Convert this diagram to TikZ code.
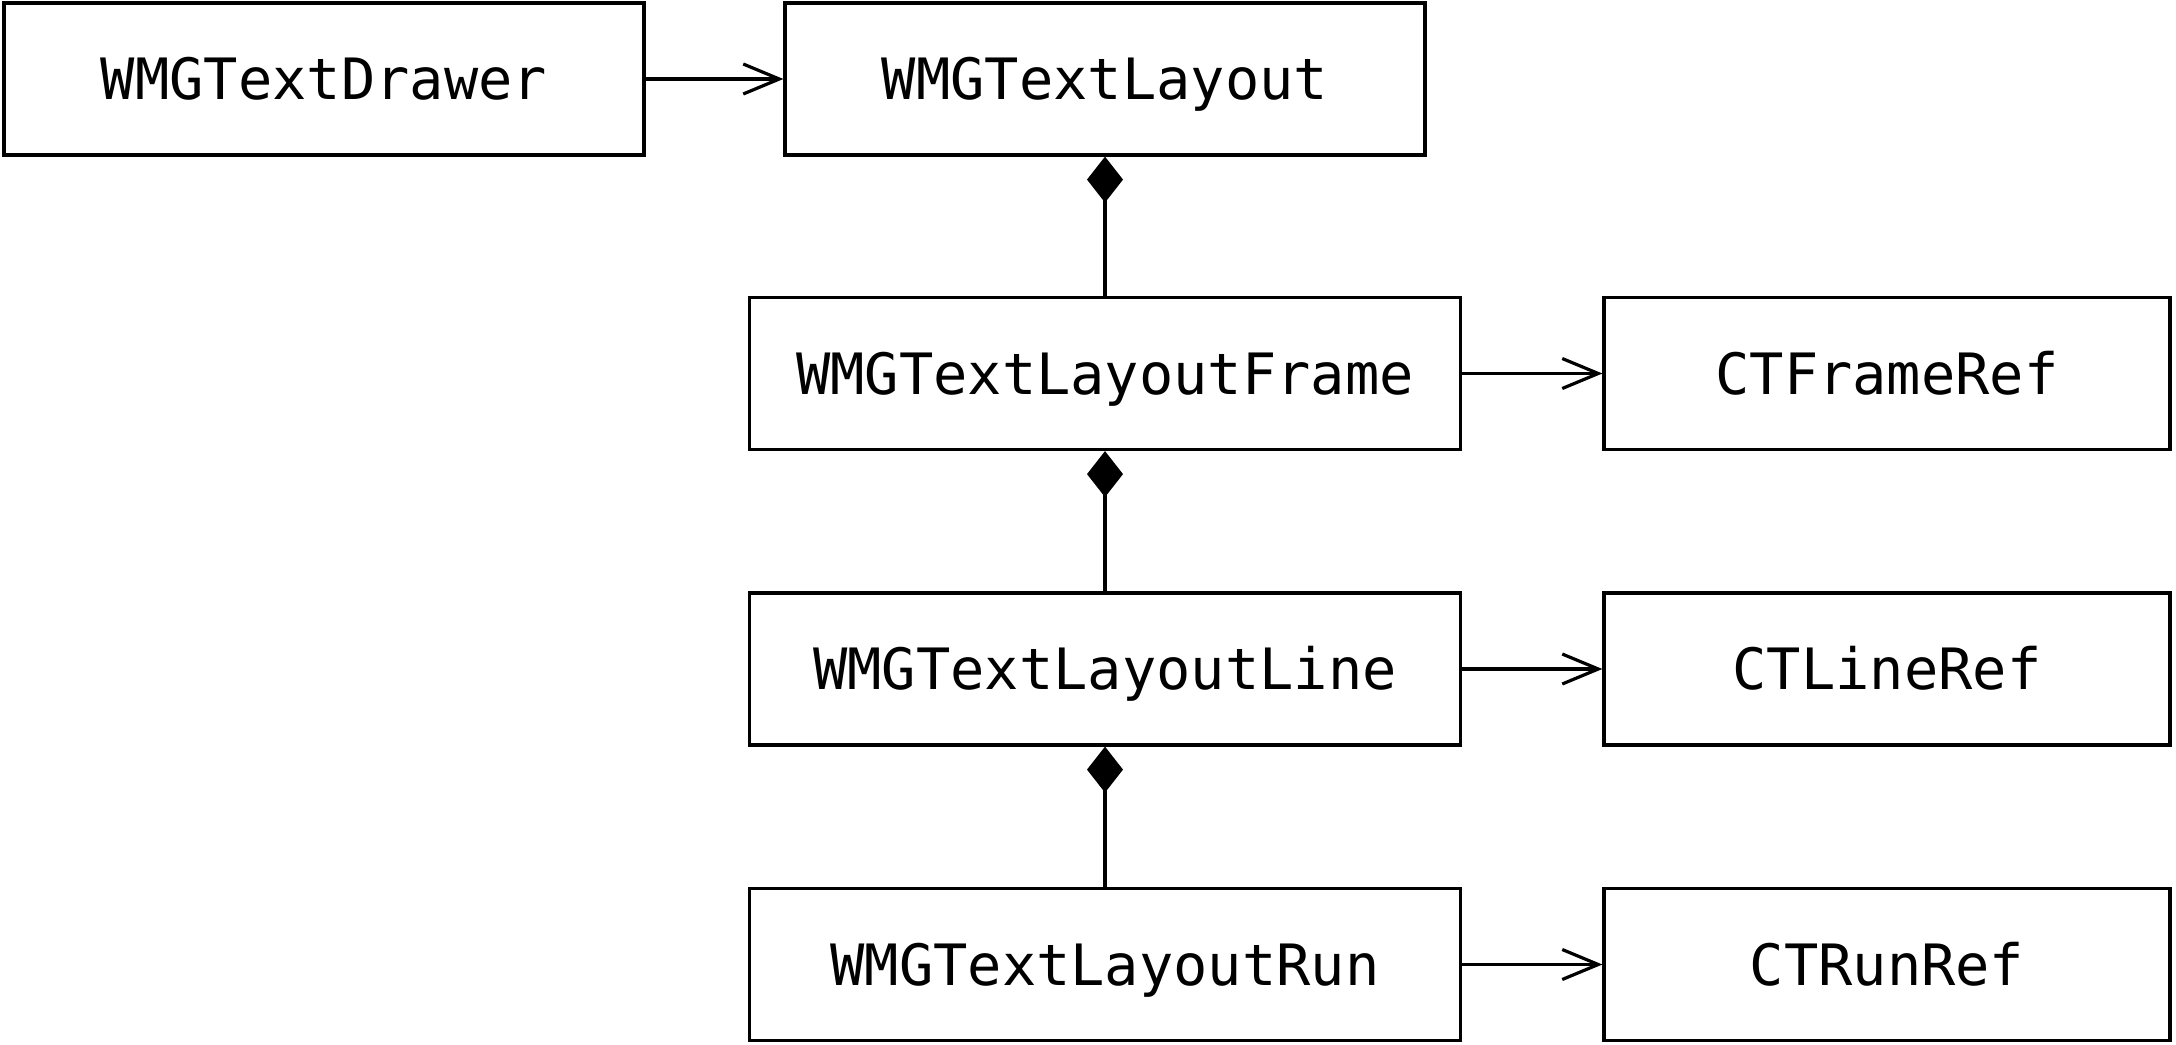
\documentclass[tikz,border=0pt]{standalone}
\usepackage{fontspec}
\setmonofont{DejaVu Sans Mono}
\usetikzlibrary{arrows.meta}
\begin{document}
\begin{tikzpicture}[x=0.5pt,y=-0.5pt,
  cls/.style={draw,line width=1.6pt,minimum height=76pt,inner sep=0pt,text height=20.8pt,text depth=0pt,font=\ttfamily\fontsize{28.5}{32}\selectfont},
  wide/.style={cls,minimum width=320pt},
  mid/.style={cls,minimum width=355.5pt},
  ref/.style={cls,minimum width=283pt},
  assoc/.style={line width=1.6pt,-{Straight Barb[length=18pt,width=15pt,line width=1.6pt]}},
  comp/.style={line width=1.6pt,-{Diamond[length=23pt,width=18pt]}}]
\useasboundingbox (0,0) rectangle (2176,1045);
\node[wide] (drawer) at (324,79) {WMGTextDrawer};
\node[wide] (layout) at (1105,79) {WMGTextLayout};
\node[mid] (frame) at (1105,373.5) {WMGTextLayoutFrame};
\node[mid] (line) at (1105,669) {WMGTextLayoutLine};
\node[mid] (run) at (1105,964.5) {WMGTextLayoutRun};
\node[ref] (ctframe) at (1887,373.5) {CTFrameRef};
\node[ref] (ctline) at (1887,669) {CTLineRef};
\node[ref] (ctrun) at (1887,964.5) {CTRunRef};
\draw[assoc] (drawer) -- (layout);
\draw[assoc] (frame) -- (ctframe);
\draw[assoc] (line) -- (ctline);
\draw[assoc] (run) -- (ctrun);
\draw[comp] (frame) -- (layout);
\draw[comp] (line) -- (frame);
\draw[comp] (run) -- (line);
\end{tikzpicture}
\end{document}
